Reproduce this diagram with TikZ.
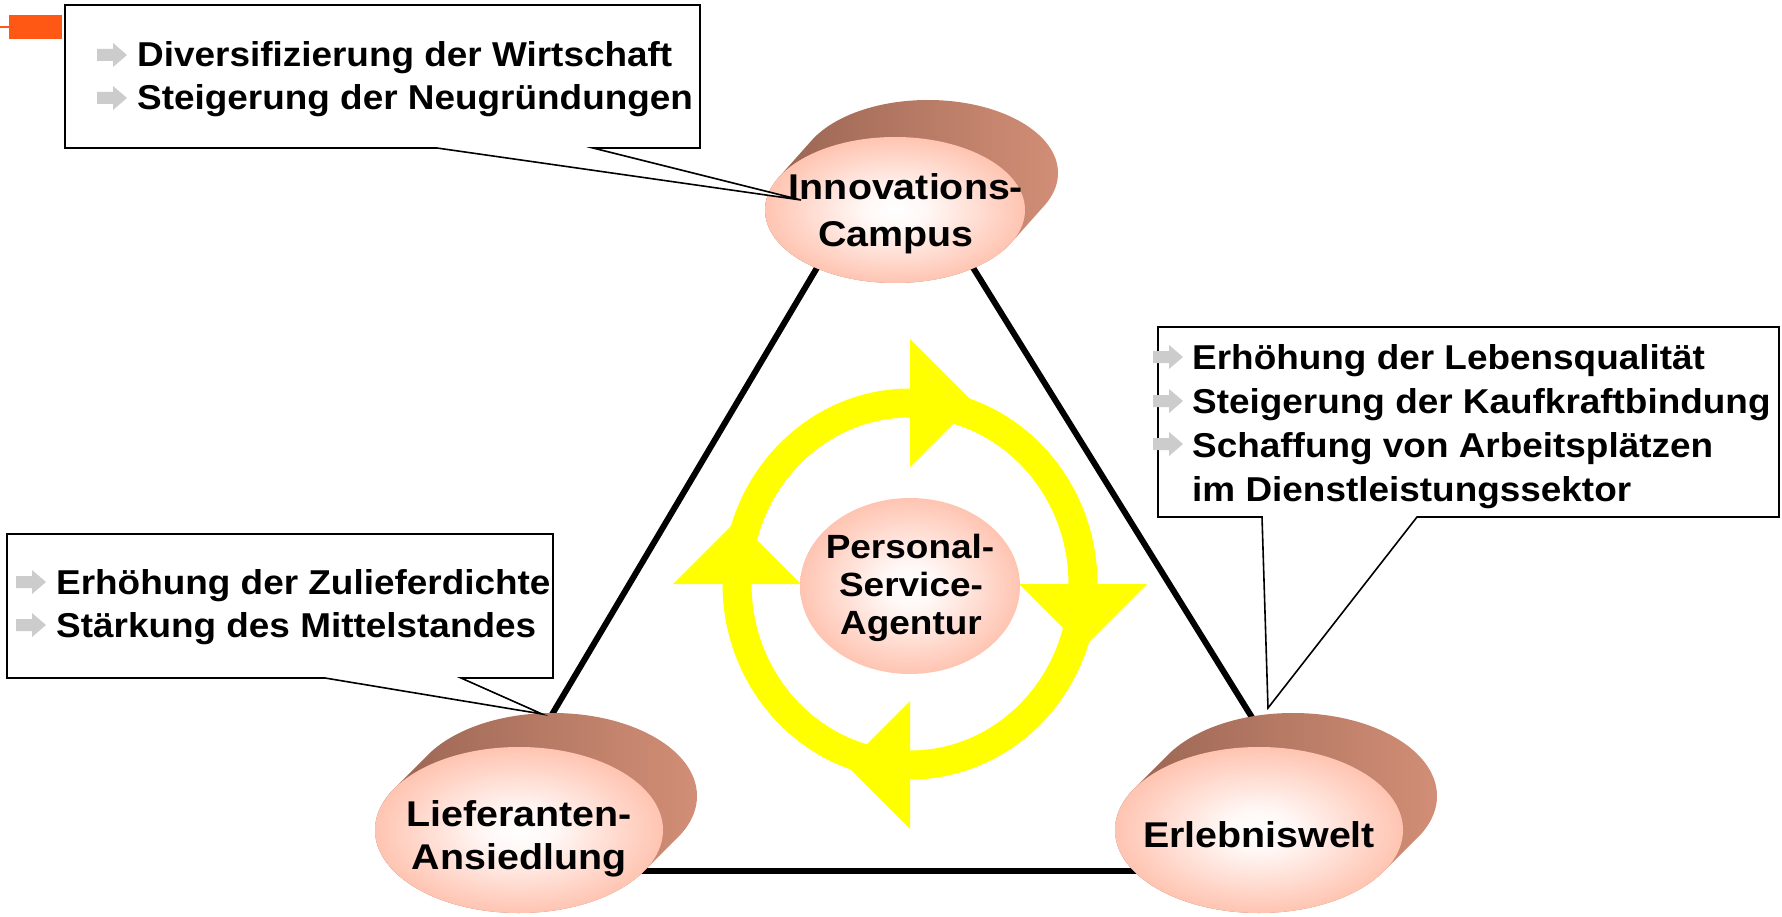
\documentclass[tikz,border=0pt]{standalone}
\usepackage{fontspec}
\setmainfont{Liberation Sans}
\newfontfamily\callfont{Liberation Sans}[FakeStretch=1.07]
\newfontfamily\ellfont{Liberation Sans}[FakeStretch=1.1]
\usetikzlibrary{shapes.geometric,calc}
\definecolor{salm}{RGB}{255,166,138}
\definecolor{extA}{RGB}{152,100,82}
\definecolor{extB}{RGB}{210,142,118}
\definecolor{bulgray}{RGB}{204,204,204}
\definecolor{orng}{RGB}{255,88,20}
\definecolor{yel}{RGB}{255,255,0}
\pgfdeclareradialshading{ellshade}{\pgfpoint{0bp}{0bp}}{color(0bp)=(white); color(6bp)=(white!92!salm); color(36bp)=(salm); color(50bp)=(salm)}
\newcommand\ellthree[6]{%
  \shade[extr] \foreach \k in {0,...,34} { (#1+#5*\k/34, #2-#6*\k/34) ellipse [x radius=#3, y radius=#4] };
}
\begin{document}
\begin{tikzpicture}[x=1pt,y=-1pt,
  callout/.style={draw=black,line width=1.6pt,fill=white,line join=miter},
  ctext/.style={anchor=base west,inner sep=0pt,font=\callfont\bfseries\fontsize{34.5}{40}\selectfont},
  etext/.style={anchor=base,inner sep=0pt,font=\ellfont\bfseries\fontsize{35.8}{42}\selectfont},
  ptext/.style={anchor=base,inner sep=0pt,font=\ellfont\bfseries\fontsize{33.6}{40}\selectfont},
  front/.style={ellipse,shade,shading=ellshade,inner sep=0pt,outer sep=0pt},
  edgethree/.style={line width=6pt,black},
  extr/.style={left color=extA,right color=extB},
  bul/.pic={\fill[bulgray] (0,-6) -- (16,-6) -- (16,-12) -- (30,0) -- (16,12) -- (16,6) -- (0,6) -- cycle;}
]
\useasboundingbox (0,0) rectangle (1782,917);
\fill[white] (0,0) rectangle (1782,917);

% orange marker
\node[fill=orng,minimum width=53pt,minimum height=24pt,inner sep=0pt] (mark) at (35.5,27) {};
\coordinate (markin) at (0,27);
\draw[orng,line width=1.2pt] (markin) -- (mark.west);

% triangle
\coordinate (iL) at (840,229); \coordinate (lT) at (541,733);
\coordinate (iR) at (954,237); \coordinate (eT) at (1266,740);
\coordinate (lR) at (600,871); \coordinate (eL) at (1180,871);
\draw[edgethree] (iL) -- (lT);
\draw[edgethree] (iR) -- (eT);
\draw[edgethree] (lR) -- (eL);

% 3D ellipses
\ellthree{895}{210}{130}{73}{33}{37}
\node[front,minimum width=260pt,minimum height=146pt] (inno) at (895,210) {};
\ellthree{519}{830}{144}{83}{34}{34}
\node[front,minimum width=288pt,minimum height=166pt] (lief) at (519,830) {};
\ellthree{1259}{830}{144}{83}{34}{34}
\node[front,minimum width=288pt,minimum height=166pt] (erl) at (1259,830) {};

% cycle
\draw[yel,line width=29pt] (910,584) ellipse [x radius=173, y radius=181];
\fill[yel] (910,339) -- (974,403) -- (910,467) -- cycle;
\fill[yel] (1019,584) -- (1083,648) -- (1147,584) -- cycle;
\fill[yel] (910,701) -- (846,765) -- (910,829) -- cycle;
\fill[yel] (673,584) -- (737,520) -- (801,584) -- cycle;
\node[front,minimum width=220pt,minimum height=176pt] (psa) at (910,586) {};

% callouts
\coordinate (tipI) at (801,200);
\draw[callout] (65,5) -- (700,5) -- (700,148) -- (593,148) -- (tipI) -- (437,148) -- (65,148) -- cycle;
\coordinate (tipE) at (1268,708);
\draw[callout] (1158,327) -- (1779,327) -- (1779,517) -- (1417,517) -- (tipE) -- (1262,517) -- (1158,517) -- cycle;
\coordinate (tipL) at (542,714);
\draw[callout] (7,534) -- (553,534) -- (553,678) -- (461,678) -- (tipL) -- (325,678) -- (7,678) -- cycle;

% bullets
\pic at (97,55) {bul}; \pic at (97,98) {bul};
\pic at (1153,357) {bul}; \pic at (1153,401) {bul}; \pic at (1153,444) {bul};
\pic at (16,582) {bul}; \pic at (16,625) {bul};

% callout texts
\node[ctext] (ta1) at (137,67) {Diversifizierung der Wirtschaft};
\node[ctext] (ta2) at (137,110) {Steigerung der Neugründungen};
\node[ctext] (tb1) at (1192,369) {Erhöhung der Lebensqualität};
\node[ctext] (tb2) at (1192,413) {Steigerung der Kaufkraftbindung};
\node[ctext] (tb3) at (1192,457) {Schaffung von Arbeitsplätzen};
\node[ctext] (tb4) at (1192,501) {im Dienstleistungssektor};
\node[ctext] (tc1) at (56,594) {Erhöhung der Zulieferdichte};
\node[ctext] (tc2) at (56,637) {Stärkung des Mittelstandes};

% ellipse labels
\node[etext] (inno1) at (906,200) {Innovations-};
\node[etext] (inno2) at (896,247) {Campus};
\node[etext] (lief1) at (519,826) {Lieferanten-};
\node[etext] (lief2) at (519,869) {Ansiedlung};
\node[etext] (erl1) at (1259,847) {Erlebniswelt};
\node[ptext] (psa1) at (910,558) {Personal-};
\node[ptext] (psa2) at (911,596) {Service-};
\node[ptext] (psa3) at (911,634) {Agentur};
\end{tikzpicture}
\end{document}
